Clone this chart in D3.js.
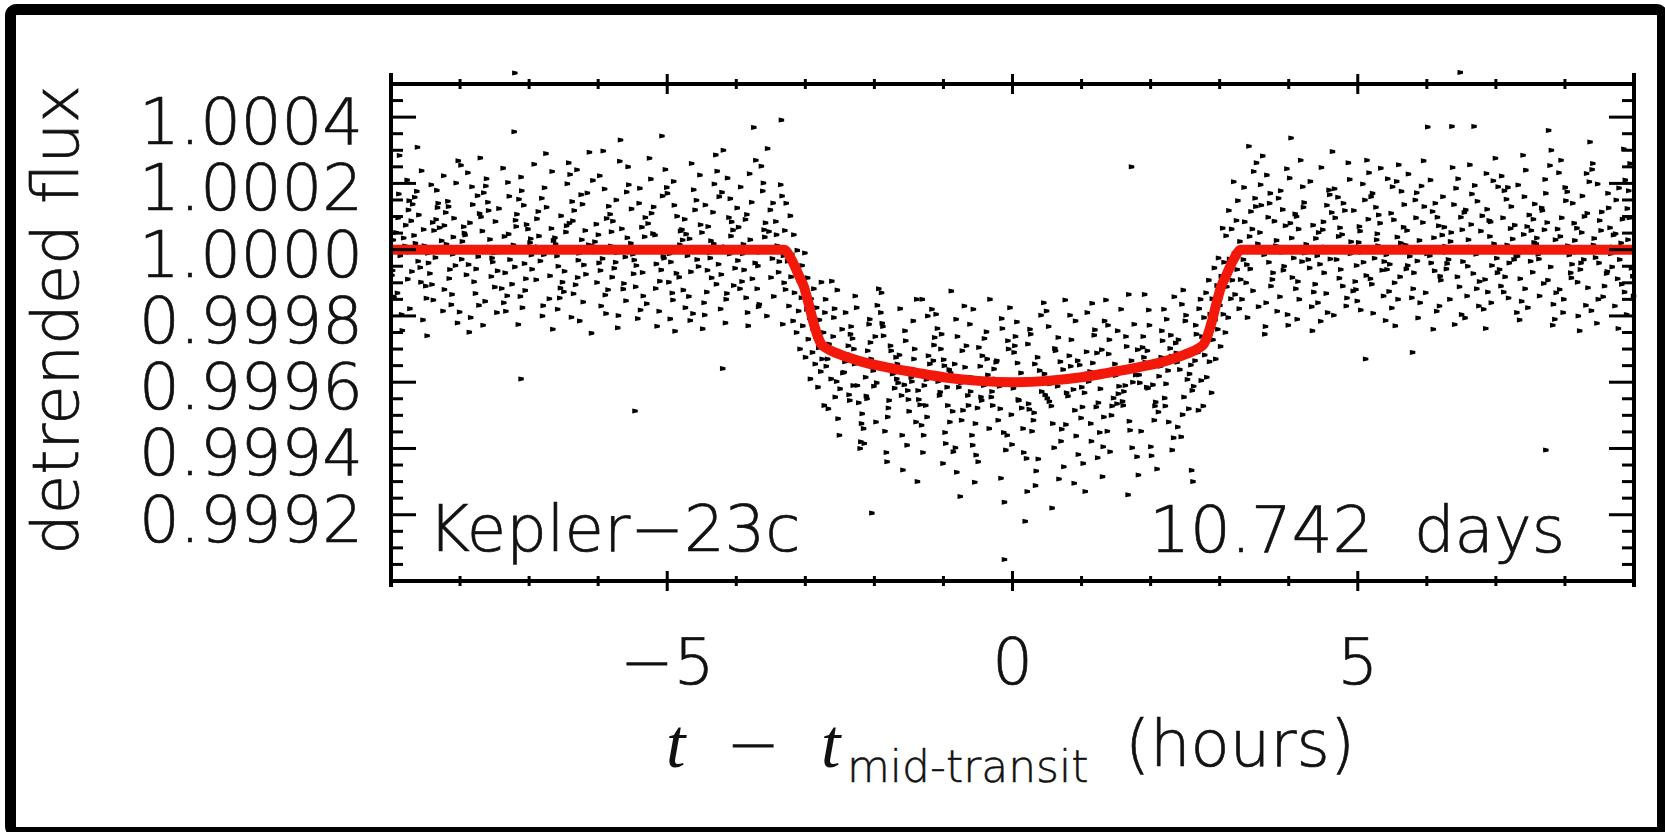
<!DOCTYPE html>
<html>
<head>
<meta charset="utf-8">
<script src="https://cdn.jsdelivr.net/npm/d3@7"></script>
<style>
  body { margin: 0; background: #fff; }
  svg { display: block; }
  .lbl { font-family: "DejaVu Sans", sans-serif; font-weight: 300; fill: #111; stroke: #111; stroke-width: 0.7px; white-space: pre; }
  .math { font-family: "Liberation Serif", "DejaVu Serif", serif; font-style: italic; fill: #111; }
</style>
</head>
<body>
<svg id="chart" width="1665" height="832"></svg>
<script>
// --- assi ---
const xDomain = [-9, 9];
const yDomain = [0.999, 1.0005];
const xMajorTicks = [-5, 0, 5];
const xTickLabels = ["\u22125", "0", "5"];
const xMinorTicks = [-8, -7, -6, -4, -3, -2, -1, 1, 2, 3, 4, 6, 7, 8];
const yMajorTicks = [1.0004, 1.0002, 1.0000, 0.9998, 0.9996, 0.9994, 0.9992];
const yTickLabels = ["1.0004", "1.0002", "1.0000", "0.9998", "0.9996", "0.9994", "0.9992"];

// --- modello (ore, ppm rispetto a 1) ---
const modelHours = [-9, -3.31, -3.2, -3.1, -3.02, -2.95, -2.88, -2.82, -2.77, -2.7, -2.5, -2.2, -1.8, -1.4, -1.0, -0.5, 0,
  0.5, 1.0, 1.4, 1.8, 2.2, 2.5, 2.7, 2.77, 2.82, 2.88, 2.95, 3.02, 3.1, 3.2, 3.31, 9];
const modelPpm = [0, 0, -30, -75, -112, -165, -222, -262, -285, -297, -316, -337, -356, -371, -385, -396, -400,
  -396, -385, -371, -356, -337, -316, -297, -285, -262, -222, -165, -112, -75, -30, 0, 0];

// --- punti osservati: coppie [ore, ppm] ---
const preTransit = [
  -8.82,35, -8.96,-142, -8.90,96, -8.77,210, -8.87,-18, -8.99,-77, -8.74,148, -8.93,52, -8.85,-196, -8.80,11, -8.98,-63, -8.88,284, -8.75,120, -8.91,-131, -8.95,-5, -8.79,74, -8.84,-244, -8.89,168, -8.97,29, -8.76,-89,
  -8.69,137, -8.53,61, -8.61,-35, -8.73,-178, -8.56,238, -8.50,-110, -8.65,19, -8.71,87, -8.58,-54, -8.63,176, -8.54,-212, -8.67,43, -8.74,-8, -8.60,105, -8.49,-147, -8.62,309, -8.70,-66, -8.52,12, -8.57,-98, -8.66,158,
  -8.36,-24, -8.40,82, -8.25,-185, -8.33,127, -8.46,-40, -8.29,-3, -8.42,196, -8.23,-120, -8.38,58, -8.48,-260, -8.32,140, -8.27,27, -8.44,-72, -8.35,91, -8.39,-152, -8.24,223, -8.47,-11, -8.30,66, -8.41,-105, -8.34,179,
  -8.02,4, -8.13,-166, -8.21,112, -8.07,-48, -7.99,255, -8.16,-87, -8.10,38, -8.04,-221, -8.23,73, -8.18,146, -7.98,-29, -8.12,-135, -8.06,201, -8.15,-60, -8.20,16, -8.09,95, -8.01,-188, -8.17,130, -8.11,-14, -8.03,268,
  -7.80,-97, -7.94,50, -7.88,-45, -7.75,163, -7.85,-205, -7.97,25, -7.72,109, -7.91,-76, -7.83,190, -7.78,-132, -7.96,-2, -7.86,81, -7.73,-168, -7.89,232, -7.93,44, -7.77,-58, -7.82,136, -7.87,-249, -7.95,69, -7.74,-21,
  -7.66,172, -7.50,-113, -7.58,8, -7.70,99, -7.53,-37, -7.47,-190, -7.62,214, -7.68,56, -7.55,-81, -7.60,143, -7.51,-10, -7.64,-156, -7.71,277, -7.57,31, -7.46,-64, -7.59,118, -7.67,-228, -7.49,85, -7.54,-25, -7.63,192,
  -7.32,-139, -7.36,40, -7.21,-52, -7.29,161, -7.42,-7, -7.25,-104, -7.38,246, -7.19,70, -7.34,-186, -7.44,124, -7.28,-30, -7.23,14, -7.40,-117, -7.31,203, -7.35,-70, -7.20,89, -7.22,356, -7.21,533, -7.37,-160, -7.30,47,
  -6.97,-16, -7.08,134, -7.16,-226, -7.02,62, -7.12,-390, -7.11,178, -7.05,-88, -6.99,21, -7.18,107, -7.13,-141, -6.93,258, -7.07,-42, -7.01,5, -7.10,-175, -7.15,152, -7.04,76, -6.96,-59, -7.12,219, -7.06,-123, -6.98,33,
  -6.73,-6, -6.87,115, -6.81,-200, -6.68,64, -6.78,187, -6.90,-91, -6.65,28, -6.84,-34, -6.76,290, -6.71,-148, -6.89,93, -6.79,-15, -6.66,-240, -6.82,155, -6.86,41, -6.70,-79, -6.75,128, -6.80,-169, -6.88,9, -6.67,236,
  -6.58,-50, -6.42,80, -6.50,-127, -6.62,17, -6.45,199, -6.39,-204, -6.54,102, -6.60,-19, -6.47,53, -6.52,-98, -6.43,262, -6.56,-146, -6.63,36, -6.49,-65, -6.38,145, -6.51,-1, -6.59,-180, -6.41,227, -6.46,72, -6.55,-116,
  -6.25,166, -6.29,-32, -6.14,15, -6.22,-158, -6.35,118, -6.18,-74, -6.31,241, -6.12,2, -6.27,-215, -6.37,87, -6.21,-46, -6.16,171, -6.33,-106, -6.24,30, -6.28,-11, -6.13,294, -6.36,-133, -6.19,58, -6.30,-84, -6.23,137,
  -5.89,-193, -6.00,45, -6.08,209, -5.94,-27, -5.86,-121, -6.03,77, -5.97,-63, -5.91,183, -6.10,-252, -6.05,24, -5.85,131, -5.99,-40, -5.93,298, -6.02,-99, -6.07,10, -5.96,-170, -5.88,94, -6.04,-7, -5.98,223, -5.90,-137,
  -5.66,63, -5.80,-83, -5.74,150, -5.61,-22, -5.71,-199, -5.83,107, -5.58,36, -5.77,-56, -5.69,267, -5.64,-119, -5.82,11, -5.72,-236, -5.59,174, -5.75,-38, -5.79,86, -5.63,-102, -5.68,331, -5.73,-9, -5.81,54, -5.60,-154,
  -5.52,123, -5.36,-69, -5.44,6, -5.56,196, -5.39,-182, -5.33,39, -5.48,-31, -5.47,-487, -5.41,140, -5.46,-112, -5.37,68, -5.50,-14, -5.57,250, -5.43,-208, -5.32,97, -5.45,-48, -5.53,19, -5.35,-140, -5.40,185, -5.49,-73,
  -5.18,44, -5.22,-4, -5.07,162, -5.15,-231, -5.28,79, -5.11,-95, -5.24,213, -5.05,-26, -5.20,129, -5.30,-163, -5.14,3, -5.09,-61, -5.26,276, -5.17,-117, -5.21,49, -5.06,-20, -5.08,343, -5.12,-186, -5.23,110, -5.16,-43,
  -4.82,15, -4.93,-131, -5.01,188, -4.87,-71, -4.79,61, -4.96,-209, -4.90,134, -4.84,-5, -5.03,242, -4.98,-98, -4.78,29, -4.92,-152, -4.86,101, -4.95,-37, -5.00,170, -4.89,-246, -4.81,56, -4.97,-12, -4.91,206, -4.83,-83,
  -4.60,120, -4.74,-175, -4.68,33, -4.55,-51, -4.65,260, -4.77,-122, -4.52,75, -4.71,-18, -4.63,-193, -4.58,149, -4.76,2, -4.66,-67, -4.53,225, -4.69,-141, -4.73,47, -4.57,-30, -4.62,181, -4.67,-214, -4.75,92, -4.54,-2,
  -4.45,135, -4.29,-104, -4.37,27, -4.49,-239, -4.32,198, -4.26,-44, -4.41,70, -4.47,-160, -4.34,113, -4.39,-9, -4.30,286, -4.43,-128, -4.50,52, -4.36,-85, -4.25,160, -4.38,-25, -4.46,-197, -4.28,237, -4.33,18, -4.42,-62,
  -4.11,97, -4.15,-150, -4.20,-359, -4.08,41, -4.21,173, -4.04,-108, -4.17,9, -3.98,-33, -4.13,216, -4.23,-179, -4.07,84, -4.02,-56, -4.19,300, -4.10,-13, -4.14,-132, -3.99,126, -4.22,-75, -4.05,59, -4.16,-221, -4.09,154,
  -3.76,-4, -3.87,91, -3.95,-118, -3.81,229, -3.73,-40, -3.90,16, -3.84,-190, -3.78,143, -3.97,68, -3.92,-96, -3.72,270, -3.86,-145, -3.80,30, -3.89,-61, -3.94,189, -3.83,-230, -3.75,369, -3.91,-12, -3.85,106, -3.77,-88,
  -3.53,55, -3.67,-165, -3.61,201, -3.48,-27, -3.58,81, -3.70,-118, -3.45,3, -3.64,252, -3.56,-200, -3.51,120, -3.69,-49, -3.59,38, -3.46,-141, -3.62,177, -3.66,-8, -3.50,-84, -3.55,305, -3.60,60, -3.68,-172, -3.47,141,
  -3.38,-36, -3.43,85, -3.33,-225, -3.41,12, -3.36,196, -3.31,-100, -3.35,391, -3.42,45, -3.39,-68, -3.34,162, -3.32,-18
];
const ingress = [
  -3.30,58, -3.29,-120, -3.28,140, -3.26,-35, -3.25,-6, -3.24,-170, -3.22,102, -3.21,-82, -3.20,-14, -3.18,-215, -3.17,45, -3.16,-130, -3.14,-60, -3.13,-250, -3.12,-2, -3.10,-185, -3.09,-92, -3.08,-300, -3.06,-145, -3.05,-48,
  -3.04,-230, -3.02,-115, -3.01,-10, -3.00,-325, -2.98,-180, -2.97,-85, -2.96,-270, -2.94,-205, -2.93,-390, -2.92,-148, -2.90,-310, -2.89,-238, -2.88,-118, -2.86,-345, -2.85,-262, -2.84,-175, -2.82,-415, -2.81,-296, -2.80,-212, -2.78,-368,
  -2.77,-98, -2.76,-330, -2.74,-250, -2.73,-470, -2.72,-190
];
const inTransit = [
  -2.66,-285, -2.50,-420, -2.58,-178, -2.70,-352, -2.53,-510, -2.47,-240, -2.62,-95, -2.68,-330, -2.55,-398, -2.60,-262, -2.51,-560, -2.64,-305, -2.71,-150, -2.57,-445, -2.46,-372, -2.59,-205, -2.67,-480, -2.49,-318, -2.54,-122, -2.63,-390,
  -2.32,-268, -2.36,-455, -2.21,-600, -2.29,-345, -2.42,-190, -2.25,-410, -2.38,-290, -2.19,-525, -2.34,-232, -2.44,-370, -2.28,-140, -2.23,-462, -2.40,-315, -2.31,-410, -2.35,-255, -2.20,-580, -2.43,-338, -2.26,-175, -2.37,-438, -2.30,-300,
  -1.97,-402, -2.08,-225, -2.16,-540, -2.02,-365, -1.94,-118, -2.11,-450, -2.05,-330, -1.99,-262, -2.18,-495, -2.13,-385, -2.04,-795, -2.07,-210, -2.01,-412, -2.10,-305, -2.15,-585, -2.04,-348, -1.96,-168, -2.12,-442, -2.06,-280, -1.98,-520,
  -1.74,-375, -1.88,-232, -1.82,-640, -1.69,-325, -1.79,-455, -1.91,-190, -1.66,-402, -1.85,-548, -1.77,-290, -1.72,-372, -1.90,-130, -1.80,-478, -1.67,-345, -1.83,-612, -1.87,-260, -1.71,-418, -1.76,-305, -1.81,-505, -1.89,-222, -1.68,-390,
  -1.59,-665, -1.43,-330, -1.51,-452, -1.63,-178, -1.46,-398, -1.40,-520, -1.55,-275, -1.61,-440, -1.48,-362, -1.53,-590, -1.44,-215, -1.57,-408, -1.64,-318, -1.50,-488, -1.39,-150, -1.52,-425, -1.60,-560, -1.42,-300, -1.47,-385, -1.56,-245,
  -1.26,-470, -1.30,-612, -1.15,-335, -1.23,-200, -1.36,-452, -1.19,-378, -1.32,-530, -1.13,-265, -1.28,-410, -1.38,-700, -1.22,-320, -1.17,-180, -1.34,-468, -1.25,-392, -1.29,-560, -1.14,-288, -1.37,-425, -1.20,-345, -1.31,-150, -1.24,-505,
  -0.90,-372, -1.01,-645, -1.09,-238, -0.95,-415, -0.87,-488, -1.04,-300, -0.98,-552, -0.92,-362, -1.11,-195, -1.06,-440, -0.86,-610, -1.00,-332, -0.94,-470, -1.03,-255, -1.08,-398, -0.97,-585, -0.89,-125, -1.05,-430, -0.99,-350, -0.91,-520,
  -0.67,-290, -0.81,-672, -0.75,-402, -0.62,-225, -0.72,-485, -0.84,-345, -0.59,-560, -0.78,-415, -0.70,-170, -0.65,-440, -0.83,-598, -0.73,-305, -0.60,-385, -0.76,-745, -0.80,-262, -0.64,-470, -0.69,-355, -0.74,-515, -0.82,-210, -0.61,-428,
  -0.53,-620, -0.37,-330, -0.45,-455, -0.57,-180, -0.40,-392, -0.34,-540, -0.49,-295, -0.55,-702, -0.42,-410, -0.47,-352, -0.38,-248, -0.51,-478, -0.58,-590, -0.44,-320, -0.33,-150, -0.46,-445, -0.54,-525, -0.36,-378, -0.41,-268, -0.50,-640,
  -0.19,-412, -0.23,-335, -0.08,-560, -0.16,-208, -0.29,-470, -0.12,-762, -0.25,-390, -0.06,-300, -0.21,-515, -0.31,-445, -0.15,-238, -0.10,-605, -0.27,-360, -0.18,-480, -0.12,-935, -0.07,-275, -0.30,-428, -0.13,-552, -0.24,-340, -0.17,-690,
  0.17,-405, 0.06,-218, -0.02,-498, 0.12,-372, 0.20,-630, 0.03,-290, 0.09,-455, 0.15,-540, -0.04,-175, 0.01,-418, 0.21,-730, 0.07,-342, 0.13,-478, 0.04,-262, -0.01,-588, 0.10,-395, 0.18,-820, 0.02,-310, 0.08,-452, 0.16,-612,
  0.39,-365, 0.25,-240, 0.31,-492, 0.44,-398, 0.34,-668, 0.22,-285, 0.47,-438, 0.28,-548, 0.36,-325, 0.41,-198, 0.23,-465, 0.33,-712, 0.46,-375, 0.30,-515, 0.26,-255, 0.42,-428, 0.37,-632, 0.32,-345, 0.24,-482, 0.45,-160,
  0.54,-405, 0.70,-578, 0.62,-305, 0.50,-448, 0.67,-692, 0.73,-362, 0.58,-525, 0.52,-232, 0.65,-412, 0.60,-598, 0.69,-338, 0.56,-472, 0.49,-185, 0.63,-390, 0.74,-655, 0.61,-298, 0.53,-458, 0.71,-542, 0.66,-265, 0.57,-780,
  0.88,-422, 0.84,-352, 0.99,-508, 0.91,-215, 0.78,-432, 0.95,-618, 0.82,-320, 1.01,-475, 0.86,-392, 0.76,-152, 0.92,-562, 0.97,-348, 0.80,-442, 0.89,-705, 0.85,-272, 1.00,-415, 0.77,-528, 0.94,-335, 0.83,-198, 0.90,-485,
  1.23,-628, 1.12,-368, 1.04,-432, 1.18,-258, 1.26,-552, 1.09,-375, 1.15,-162, 1.21,-475, 1.02,-645, 1.07,-308, 1.27,-420, 1.13,-525, 1.19,-242, 1.10,-398, 1.05,-730, 1.16,-342, 1.24,-462, 1.08,-190, 1.14,-578, 1.22,-312,
  1.46,-448, 1.32,-505, 1.38,-228, 1.51,-465, 1.41,-610, 1.29,-302, 1.54,-412, 1.35,-152, 1.43,-500, 1.48,-345, 1.30,-685, 1.40,-272, 1.53,-435, 1.37,-548, 1.33,-215, 1.49,-380, 1.44,-472, 1.39,-315, 1.31,-595, 1.52,-245,
  1.61,-428, 1.77,-360, 1.69,-518, 1.57,-180, 1.74,-400, 1.80,-625, 1.65,-292, 1.59,-458, 1.72,-335, 1.67,-740, 1.76,-225, 1.63,-410, 1.72,250, 1.70,-545, 1.81,-302, 1.68,-135, 1.60,-470, 1.78,-378, 1.73,-598, 1.64,-262,
  1.94,-415, 1.90,-325, 2.05,-515, 1.97,-182, 1.84,-402, 2.01,-622, 1.88,-295, 2.07,-460, 1.92,-340, 1.82,-680, 1.98,-228, 2.03,-408, 1.86,-548, 1.95,-305, 1.91,-135, 2.06,-472, 1.83,-378, 2.00,-595, 1.89,-262, 1.96,-418,
  2.30,-322, 2.19,-180, 2.11,-490, 2.25,-365, 2.33,-568, 2.16,-245, 2.22,-405, 2.28,-298, 2.09,-662, 2.14,-352, 2.34,-142, 2.20,-448, 2.26,-520, 2.17,-275, 2.12,-382, 2.23,-210, 2.31,-605, 2.15,-325, 2.21,-472, 2.29,-258,
  2.53,-392, 2.39,-535, 2.45,-165, 2.58,-348, 2.48,-445, 2.36,-282, 2.61,-700, 2.42,-362, 2.50,-215, 2.55,-480, 2.37,-312, 2.47,-122, 2.60,-425, 2.44,-565, 2.40,-272, 2.56,-375, 2.51,-198, 2.46,-498, 2.38,-340, 2.59,-666,
  2.66,-255, 2.62,-412, 2.70,-178, 2.64,-335, 2.69,-485, 2.65,-228, 2.68,-310
];
const egress = [
  2.72,-150, 2.73,-395, 2.74,-262, 2.76,-472, 2.77,-205, 2.78,-318, 2.80,-130, 2.81,-385, 2.82,-248, 2.84,-92, 2.85,-338, 2.86,-195, 2.88,-432, 2.89,-148, 2.90,-272, 2.92,-55, 2.93,-212, 2.94,-330, 2.96,-108, 2.97,-240,
  2.98,-25, 3.00,-168, 3.01,-292, 3.02,-80, 3.04,65, 3.05,-195, 3.06,-38, 3.08,-250, 3.09,42, 3.10,-112, 3.12,-205, 3.13,118, 3.14,-28, 3.16,-148, 3.17,62, 3.18,-92, 3.20,205, 3.21,-12, 3.22,-135, 3.24,88,
  3.25,-60, 3.26,148, 3.28,-178, 3.29,25, 3.30,-90
];
const postTransit = [
  3.36,84, 3.52,130, 3.44,-58, 3.32,-150, 3.49,236, 3.55,18, 3.40,-205, 3.34,-30, 3.47,62, 3.42,312, 3.51,155, 3.38,-100, 3.31,-6, 3.45,115, 3.56,-172, 3.43,40, 3.35,188, 3.53,262, 3.48,-124, 3.39,-45,
  3.70,98, 3.66,-232, 3.81,12, 3.73,170, 3.60,134, 3.77,-70, 3.64,-15, 3.83,-186, 3.68,225, 3.58,52, 3.74,-110, 3.79,86, 3.62,283, 3.71,-38, 3.67,-160, 3.82,28, 3.59,196, 3.76,-90, 3.65,-255, 3.72,140,
  4.06,6, 3.95,72, 3.87,-142, 4.01,216, 4.09,108, 3.92,-62, 3.98,-196, 4.04,35, 3.85,155, 3.90,-8, 4.10,-118, 4.03,337, 4.02,80, 3.93,-50, 3.88,178, 3.99,-228, 4.07,-25, 3.91,121, 3.97,244, 4.05,-84,
  4.28,-30, 4.14,62, 4.20,190, 4.33,-172, 4.23,-10, 4.11,100, 4.36,-128, 4.17,270, 4.25,16, 4.30,-55, 4.12,-210, 4.22,142, 4.35,74, 4.19,-36, 4.15,-150, 4.31,206, 4.26,2, 4.21,128, 4.13,-96, 4.34,-245,
  4.43,52, 4.59,166, 4.51,-70, 4.39,34, 4.56,-190, 4.62,112, 4.47,248, 4.41,-18, 4.54,-132, 4.49,60, 4.58,180, 4.45,-44, 4.38,-104, 4.52,8, 4.63,296, 4.50,84, 4.42,-160, 4.60,-28, 4.55,134, 4.46,-216,
  4.77,46, 4.73,-86, 4.88,212, 4.80,-2, 4.67,96, 4.84,-146, 4.71,158, 4.90,24, 4.75,-60, 4.65,-198, 4.81,118, 4.86,262, 4.69,-30, 4.78,-110, 4.74,66, 4.89,-12, 4.66,184, 4.83,-170, 4.72,40, 4.79,140,
  5.12,-78, 5.01,22, 4.93,-125, 5.07,198, 5.15,92, 4.98,-48, 5.04,-182, 5.10,150, 4.91,4, 4.96,-96, 5.16,232, 5.02,70, 5.08,-38, 4.99,-155, 4.94,118, 5.05,-8, 5.13,270, 4.97,-120, 5.03,56, 5.11,-330,
  5.35,-62, 5.21,170, 5.27,30, 5.40,-214, 5.30,105, 5.18,-88, 5.43,214, 5.24,-26, 5.32,80, 5.37,-140, 5.19,160, 5.29,12, 5.42,-60, 5.26,128, 5.22,-192, 5.38,-36, 5.33,246, 5.28,48, 5.20,-104, 5.41,-15,
  5.50,190, 5.66,68, 5.58,-150, 5.46,-44, 5.63,176, 5.69,14, 5.54,-230, 5.48,110, 5.61,-82, 5.56,206, 5.65,-6, 5.52,90, 5.45,-126, 5.59,256, 5.70,-58, 5.57,38, 5.49,-176, 5.67,136, 5.62,20, 5.53,-100,
  5.83,150, 5.79,-310, 5.94,82, 5.86,-34, 5.73,228, 5.90,-160, 5.77,6, 5.96,130, 5.81,-70, 5.71,58, 5.87,-206, 5.92,192, 5.75,-20, 5.84,96, 5.80,-118, 5.95,268, 5.72,-48, 5.89,28, 5.78,-145, 5.85,172,
  6.19,-80, 6.08,115, 6.00,-12, 6.14,-186, 6.22,44, 6.05,210, 6.11,-64, 6.17,72, 5.98,-130, 6.03,2, 6.23,160, 6.09,-240, 6.15,98, 6.06,-40, 6.01,370, 6.12,140, 6.20,-92, 6.04,-18, 6.10,36, 6.18,-170,
  6.42,185, 6.28,-58, 6.34,25, 6.47,-112, 6.37,248, 6.25,68, 6.50,-196, 6.31,-30, 6.39,136, 6.44,-82, 6.26,10, 6.36,372, 6.49,98, 6.33,-150, 6.29,-42, 6.45,214, 6.40,-226, 6.35,52, 6.48,535, 6.27,-8,
  6.56,120, 6.72,-118, 6.64,76, 6.52,-36, 6.69,194, 6.75,-170, 6.60,30, 6.54,112, 6.67,-72, 6.62,256, 6.71,-14, 6.58,-140, 6.51,60, 6.65,168, 6.76,-96, 6.63,8, 6.55,-206, 6.73,146, 6.68,372, 6.59,-50,
  6.90,88, 6.86,230, 7.01,-26, 6.93,-160, 6.80,102, 6.97,18, 6.84,-90, 7.03,190, 6.88,-128, 6.78,56, 6.94,-48, 6.99,276, 6.82,-180, 6.91,40, 6.87,122, 7.02,-70, 6.79,-4, 6.96,208, 6.85,-238, 6.92,84,
  7.26,-30, 7.15,152, 7.07,-110, 7.21,64, 7.29,-18, 7.12,178, 7.18,-146, 7.24,32, 7.05,-60, 7.10,96, 7.30,-190, 7.16,14, 7.22,130, 7.13,-82, 7.08,222, 7.19,-40, 7.27,74, 7.11,-128, 7.17,188, 7.25,-6,
  7.48,105, 7.34,-212, 7.40,46, 7.53,-68, 7.43,240, 7.31,-20, 7.56,138, 7.37,-156, 7.45,70, 7.50,-35, 7.32,195, 7.42,-118, 7.55,22, 7.39,285, 7.35,-88, 7.51,58, 7.46,-175, 7.41,160, 7.33,-10, 7.54,92,
  7.63,-140, 7.79,-52, 7.71,212, 7.59,35, 7.76,360, 7.82,-228, 7.67,118, 7.61,-14, 7.74,82, 7.69,-102, 7.78,254, 7.72,-605, 7.58,18, 7.72,170, 7.83,-165, 7.70,60, 7.62,-28, 7.80,300, 7.75,-92, 7.66,126,
  7.97,-190, 7.93,40, 8.08,-70, 8.00,188, 7.87,-130, 8.04,12, 7.91,232, 8.10,-44, 7.95,96, 7.85,-210, 8.01,148, 8.06,-16, 7.89,62, 7.98,-150, 7.94,270, 8.09,-85, 7.86,30, 8.03,175, 7.92,-120, 7.99,4,
  8.32,110, 8.21,-245, 8.13,80, 8.27,-30, 8.35,205, 8.18,-98, 8.24,52, 8.30,-168, 8.11,140, 8.16,-8, 8.36,325, 8.22,-60, 8.28,100, 8.19,-200, 8.14,28, 8.25,162, 8.33,-115, 8.17,65, 8.23,-40, 8.31,230,
  8.55,-142, 8.41,14, 8.47,198, 8.60,-72, 8.50,88, 8.38,-184, 8.63,126, 8.44,-24, 8.52,58, 8.57,-110, 8.39,242, 8.49,-40, 8.62,170, 8.46,-222, 8.42,34, 8.58,-6, 8.53,114, 8.48,-150, 8.40,260, 8.61,-66,
  8.70,44, 8.86,-128, 8.78,186, 8.66,-12, 8.83,92, 8.89,-196, 8.74,150, 8.68,-52, 8.81,20, 8.76,-88, 8.85,304, 8.72,-170, 8.65,66, 8.79,-30, 8.90,124, 8.77,-238, 8.69,8, 8.87,210, 8.82,-104, 8.73,48,
  8.96,-56, 8.92,178, 8.99,-140, 8.91,30, 8.94,260, 8.98,-80, 8.93,96
];

// Testi
const yTitle = "detrended flux";
const planetLabel = "Kepler\u221223c";
const periodLabel = "10.742  days";

// --- layout ---
const plot = { left: 391, right: 1634, top: 84, bottom: 581 };
const svg = d3.select("#chart");

const x = d3.scaleLinear().domain(xDomain).range([plot.left, plot.right]);
const y = d3.scaleLinear().domain(yDomain).range([plot.bottom, plot.top]);

// cornice esterna
svg.append("rect")
  .attr("x", 10.5).attr("y", 9.5)
  .attr("width", 1652).attr("height", 823)
  .attr("rx", 6)
  .attr("fill", "none").attr("stroke", "#000").attr("stroke-width", 11);

// punti (ppm -> flusso)
const toPoints = arr => d3.range(0, arr.length, 2).map(i => ({ t: arr[i], flux: 1 + arr[i + 1] * 1e-6 }));
const points = [preTransit, ingress, inTransit, egress, postTransit].flatMap(toPoints);

svg.append("g")
  .selectAll("path")
  .data(points)
  .join("path")
  .attr("d", "M-2.5,-2.5L3,-1.3L3,1.3L-2.5,2.5Z")
  .attr("transform", d => `translate(${x(d.t)},${y(d.flux)})`)
  .attr("fill", "#000");

// curva del modello
const model = modelHours.map((h, i) => ({ t: h, flux: 1 + modelPpm[i] * 1e-6 }));
svg.append("path")
  .datum(model)
  .attr("fill", "none")
  .attr("stroke", "#f2180a")
  .attr("stroke-width", 10)
  .attr("stroke-linejoin", "round")
  .attr("d", d3.line().x(d => x(d.t)).y(d => y(d.flux)).curve(d3.curveMonotoneX));

// assi
const axisG = svg.append("g").attr("stroke", "#000").attr("fill", "none");
[plot.top, plot.bottom].forEach(yy => {
  axisG.append("line").attr("x1", plot.left).attr("x2", plot.right)
    .attr("y1", yy).attr("y2", yy).attr("stroke-width", 4);
});
[plot.left, plot.right].forEach(xx => {
  axisG.append("line").attr("x1", xx).attr("x2", xx)
    .attr("y1", plot.top - 11).attr("y2", plot.bottom + 6).attr("stroke-width", 4);
});

// tacche asse x (attraversano la linea)
[plot.top, plot.bottom].forEach(yy => {
  axisG.selectAll(null).data(xMinorTicks).join("line")
    .attr("x1", d => x(d)).attr("x2", d => x(d))
    .attr("y1", yy - 5).attr("y2", yy + 5).attr("stroke-width", 3);
  axisG.selectAll(null).data(xMajorTicks).join("line")
    .attr("x1", d => x(d)).attr("x2", d => x(d))
    .attr("y1", yy - 10).attr("y2", yy + 10).attr("stroke-width", 3);
});

// tacche asse y (verso l'interno)
const yMinorTicks = d3.range(1, 30).map(i => 0.999 + i * 0.00005)
  .filter(v => !yMajorTicks.some(m => Math.abs(m - v) < 1e-9));
[[plot.left, 1], [plot.right, -1]].forEach(([xx, dir]) => {
  axisG.selectAll(null).data(yMinorTicks).join("line")
    .attr("x1", xx).attr("x2", xx + dir * 12)
    .attr("y1", d => y(d)).attr("y2", d => y(d)).attr("stroke-width", 3);
  axisG.selectAll(null).data(yMajorTicks).join("line")
    .attr("x1", xx).attr("x2", xx + dir * 25)
    .attr("y1", d => y(d)).attr("y2", d => y(d)).attr("stroke-width", 3);
});

// etichette
svg.append("g").selectAll("text")
  .data(yMajorTicks)
  .join("text")
  .attr("class", "lbl")
  .attr("x", 363)
  .attr("y", d => y(d) + 27)
  .attr("text-anchor", "end")
  .attr("font-size", 64)
  .text((d, i) => yTickLabels[i]);

svg.append("g").selectAll("text")
  .data(xMajorTicks)
  .join("text")
  .attr("class", "lbl")
  .attr("x", d => x(d))
  .attr("y", 684)
  .attr("text-anchor", "middle")
  .attr("font-size", 64)
  .text((d, i) => xTickLabels[i]);

svg.append("text")
  .attr("class", "lbl")
  .attr("transform", "translate(78,320) rotate(-90)")
  .attr("text-anchor", "middle")
  .attr("font-size", 64)
  .text(yTitle);

svg.append("text")
  .attr("class", "lbl")
  .attr("x", 428).attr("y", 551)
  .attr("font-size", 64)
  .text(planetLabel);

svg.append("text")
  .attr("class", "lbl")
  .attr("x", 1565).attr("y", 552)
  .attr("text-anchor", "end")
  .attr("font-size", 64)
  .text(periodLabel);

// titolo asse x: t − t_mid-transit (hours)
svg.append("text").attr("class", "math")
  .attr("x", 666).attr("y", 767).attr("font-size", 70).text("t");
svg.append("text").attr("class", "lbl")
  .attr("x", 753).attr("y", 766).attr("text-anchor", "middle").attr("font-size", 64).text("\u2212");
svg.append("text").attr("class", "math")
  .attr("x", 821).attr("y", 767).attr("font-size", 70).text("t");
svg.append("text").attr("class", "lbl")
  .attr("x", 847).attr("y", 782).attr("font-size", 44).style("stroke-width", "0.5px").text("mid-transit");
svg.append("text").attr("class", "lbl")
  .attr("x", 1125).attr("y", 766).attr("font-size", 64).text("(hours)");
</script>
</body>
</html>
